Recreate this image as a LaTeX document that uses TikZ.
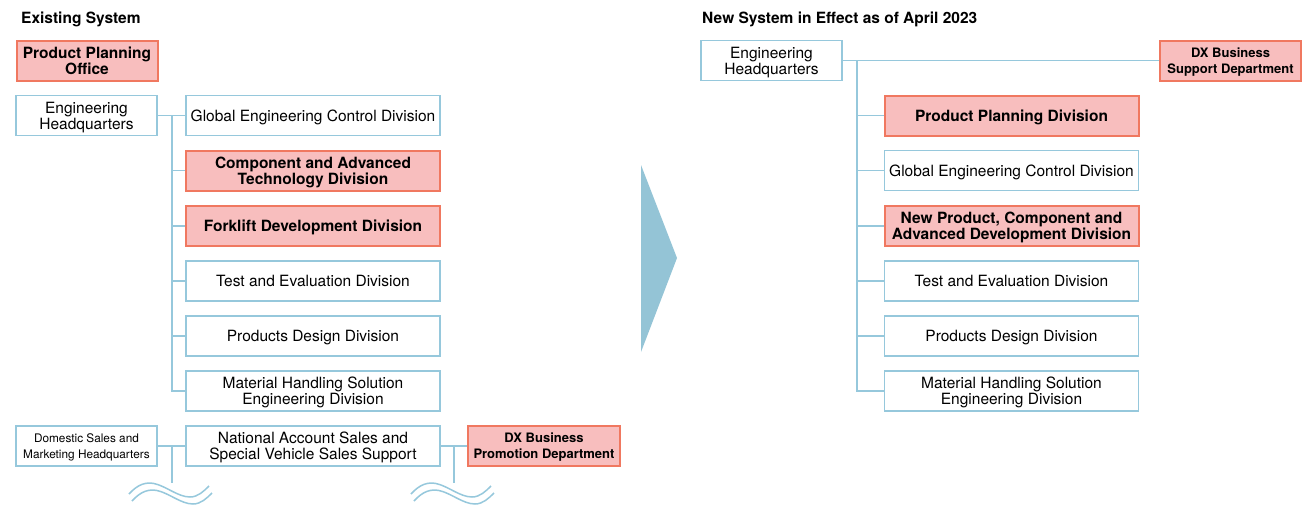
\documentclass[tikz,border=0pt]{standalone}
\usepackage{fontspec}
\setmainfont{TeX Gyre Heros}
\usepackage{tikz}

\definecolor{lineblue}{RGB}{150,200,220}
\definecolor{arrowblue}{RGB}{148,196,214}
\definecolor{newfill}{RGB}{248,190,190}
\definecolor{newedge}{RGB}{240,120,96}

\begin{document}
\begin{tikzpicture}[x=1pt,y=-1pt]
\tikzstyle{every node}+=[inner sep=0pt]
\tikzstyle{unit}=[draw=lineblue, line width=1.5pt, fill=white, align=center,
  minimum height=40pt, text depth=0pt, font=\fontsize{15.5}{16}\selectfont]
\tikzstyle{newunit}=[unit, draw=newedge, line width=2pt, fill=newfill,
  font=\fontsize{15.5}{16}\selectfont\bfseries]
\tikzstyle{hq}=[minimum width=141pt]
\tikzstyle{div}=[minimum width=254pt]
\tikzstyle{link}=[lineblue, line width=1.5pt]
\tikzstyle{title}=[anchor=west, font=\fontsize{15.5}{16}\selectfont\bfseries]
\useasboundingbox (0,0) rectangle (1312,504);
\fill [white] (0,0) rectangle (1312,504);
% existing system
\node [title] (t_old) at (21,19) {Existing System};
\node [newunit, hq] (ppo) at (87,60.5) {Product Planning\\Office};
\node [unit, hq] (ehq) at (86.5,115.5) {Engineering\\Headquarters};
\node [unit, div] (gecd) at (313,115.5) {Global Engineering Control Division};
\node [newunit, div] (catd) at (313,170.5) {Component and Advanced\\Technology Division};
\node [newunit, div] (fdd) at (313,226) {Forklift Development Division};
\node [unit, div] (ted) at (313,281) {Test and Evaluation Division};
\node [unit, div] (pdd) at (313,336) {Products Design Division};
\node [unit, div] (mhd) at (313,391) {Material Handling Solution\\Engineering Division};
\node [unit, hq, font=\fontsize{11.8}{16}\selectfont] (dsm) at (86.5,446) {Domestic Sales and\\Marketing Headquarters};
\node [unit, div] (nas) at (313,446) {National Account Sales and\\Special Vehicle Sales Support};
\node [newunit, minimum width=152pt, font=\fontsize{13}{16}\selectfont\bfseries] (dxp) at (544,446) {DX Business\\Promotion Department};
\coordinate (t1) at (172,115.5);
\coordinate (s1) at (172,446);
\coordinate (s2) at (454,446);
\coordinate (w1) at (172,483);
\coordinate (w2) at (454,483);
\draw [link] (ehq.east) -- (gecd.west);
\draw [link] (t1) |- (mhd.west);
\draw [link] (t1 |- catd.west) -- (catd.west);
\draw [link] (t1 |- fdd.west) -- (fdd.west);
\draw [link] (t1 |- ted.west) -- (ted.west);
\draw [link] (t1 |- pdd.west) -- (pdd.west);
\draw [link] (dsm.east) -- (nas.west);
\draw [link] (nas.east) -- (dxp.west);
\draw [link] (s1) -- (w1);
\draw [link] (s2) -- (w2);
% cut marks
\draw [link] (129,494) .. controls (138,484) and (146,482) .. (154,483.5) .. controls (166,486) and (178,497) .. (190,497) .. controls (198,497) and (204,491) .. (209,486);
\draw [link] (132,501) .. controls (141,491) and (149,489) .. (157,490.5) .. controls (169,493) and (181,504) .. (193,504) .. controls (201,504) and (207,498) .. (212,493);
\draw [link] (411,494) .. controls (420,484) and (428,482) .. (436,483.5) .. controls (448,486) and (460,497) .. (472,497) .. controls (480,497) and (486,491) .. (491,486);
\draw [link] (414,501) .. controls (423,491) and (431,489) .. (439,490.5) .. controls (451,493) and (463,504) .. (475,504) .. controls (483,504) and (489,498) .. (494,493);
% arrow
\fill [arrowblue] (641,165) -- (677,258) -- (641,352) -- cycle;
% new system
\node [title] (t_new) at (702,19) {New System in Effect as of April 2023};
\node [unit, hq] (ehq2) at (771.5,60.5) {Engineering\\Headquarters};
\node [newunit, hq, font=\fontsize{13}{16}\selectfont\bfseries] (dxs) at (1230.5,60.5) {DX Business\\Support Department};
\node [newunit, div] (ppd) at (1011.5,115.5) {Product Planning Division};
\node [unit, div] (gecd2) at (1011.5,170.5) {Global Engineering Control Division};
\node [newunit, div] (npcad) at (1011.5,226) {New Product, Component and\\Advanced Development Division};
\node [unit, div] (ted2) at (1011.5,281) {Test and Evaluation Division};
\node [unit, div] (pdd2) at (1011.5,336) {Products Design Division};
\node [unit, div] (mhd2) at (1011.5,391) {Material Handling Solution\\Engineering Division};
\coordinate (t2) at (857,60.5);
\draw [link] (ehq2.east) -- (dxs.west);
\draw [link] (t2) |- (mhd2.west);
\draw [link] (t2 |- ppd.west) -- (ppd.west);
\draw [link] (t2 |- gecd2.west) -- (gecd2.west);
\draw [link] (t2 |- npcad.west) -- (npcad.west);
\draw [link] (t2 |- ted2.west) -- (ted2.west);
\draw [link] (t2 |- pdd2.west) -- (pdd2.west);
\end{tikzpicture}
\end{document}
